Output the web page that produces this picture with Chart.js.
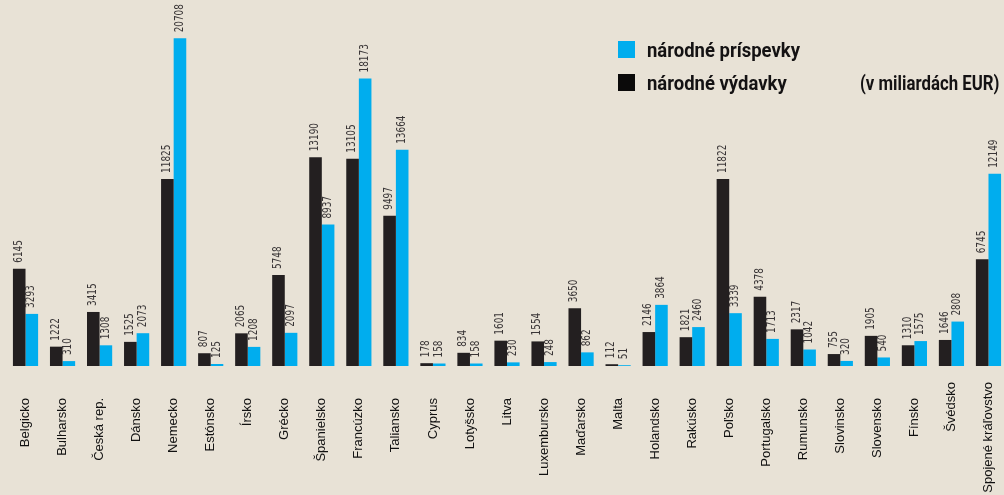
<!DOCTYPE html>
<html>
<head>
<meta charset="utf-8">
<script src="https://cdn.jsdelivr.net/npm/chart.js@4.4.1/dist/chart.umd.min.js"></script>
<style>
  html, body { margin: 0; padding: 0; overflow: hidden; background: #e8e2d6; }
  #wrap { position: relative; width: 1010px; height: 495px; }
  .legend { position: absolute; font-family: Roboto, sans-serif; font-weight: bold; font-size: 21px; color: #141213; white-space: nowrap; transform-origin: left top; transform: scaleX(0.88); line-height: 21px; }
  .box { position: absolute; width: 17px; height: 17px; }
</style>
</head>
<body>
<div id="wrap">
  <canvas id="euChart" width="1010" height="495"></canvas>
  <div class="box" style="left:618px; top:41px; background:#00adee;"></div>
  <div class="legend" style="left:647px; top:40px;">národné príspevky</div>
  <div class="box" style="left:618px; top:74px; background:#0b0a0a;"></div>
  <div class="legend" style="left:647px; top:73px;">národné výdavky</div>
  <div class="legend" style="left:860px; top:73px; transform: scaleX(0.8);">(v miliardách EUR)</div>
</div>
<script>
const countries = ['Belgicko', 'Bulharsko', 'Česká rep.', 'Dánsko', 'Nemecko', 'Estónsko', 'Írsko', 'Grécko',
  'Španielsko', 'Francúzko', 'Taliansko', 'Cyprus', 'Lotyšsko', 'Litva', 'Luxembursko', 'Maďarsko', 'Malta',
  'Holandsko', 'Rakúsko', 'Poľsko', 'Portugalsko', 'Rumunsko', 'Slovinsko', 'Slovensko', 'Fínsko', 'Švédsko',
  'Spojené kráľovstvo'];

// národné výdavky (black)
const vydavky = [6145, 1222, 3415, 1525, 11825, 807, 2065, 5748, 13190, 13105, 9497, 178, 834, 1601, 1554,
  3650, 112, 2146, 1821, 11822, 4378, 2317, 755, 1905, 1310, 1646, 6745];

// národné príspevky (cyan)
const prispevky = [3293, 310, 1308, 2073, 20708, 125, 1208, 2097, 8937, 18173, 13664, 158, 158, 230, 248,
  862, 51, 3864, 2460, 3339, 1713, 1042, 320, 540, 1575, 2808, 12149];

// the last two country names sit a little higher in the original
const raisedLabels = ['Švédsko', 'Spojené kráľovstvo'];

// rotated value labels above each bar
const valueLabels = {
  id: 'valueLabels',
  afterDatasetsDraw(chart) {
    const ctx = chart.ctx;
    ctx.save();
    ctx.fillStyle = '#3a3637';
    ctx.font = '12px "DejaVu Sans"';
    ctx.textAlign = 'left';
    ctx.textBaseline = 'middle';
    chart.data.datasets.forEach((ds, i) => {
      chart.getDatasetMeta(i).data.forEach((bar, j) => {
        ctx.save();
        ctx.translate(bar.x - 0.5, bar.y - 6);
        ctx.rotate(-Math.PI / 2);
        ctx.scale(0.74, 1);
        ctx.fillText(String(ds.data[j]), 0, 0);
        ctx.restore();
      });
    });
    ctx.restore();
  }
};

const raiseLabels = {
  id: 'raiseLabels',
  beforeDraw(chart) {
    const items = chart.scales.x.getLabelItems();
    items.forEach(item => {
      if (raisedLabels.includes(item.label)) item.options.translation[1] -= 16;
    });
  }
};

const chart = new Chart(document.getElementById('euChart').getContext('2d'), {
  type: 'bar',
  data: {
    labels: countries,
    datasets: [
      { label: 'národné výdavky', data: vydavky, backgroundColor: '#231f20' },
      { label: 'národné príspevky', data: prispevky, backgroundColor: '#00adee' }
    ]
  },
  options: {
    responsive: false,
    animation: false,
    events: [],
    categoryPercentage: 0.68,
    barPercentage: 1.0,
    layout: { padding: { left: 7, right: 3, top: 10, bottom: 0 } },
    plugins: {
      legend: { display: false },
      tooltip: { enabled: false }
    },
    scales: {
      y: {
        display: false,
        min: 0,
        max: 22500
      },
      x: {
        grid: { display: false, drawTicks: false },
        border: { display: false },
        ticks: {
          autoSkip: false,
          minRotation: 90,
          maxRotation: 90,
          padding: 32,
          color: '#111',
          font: { family: '"Liberation Sans", Arial, sans-serif', size: 13 }
        },
        afterFit: (scale) => {
          scale.height = 129;
          scale.paddingLeft = 0;
          scale.paddingRight = 0;
        }
      }
    }
  },
  plugins: [valueLabels, raiseLabels]
});
</script>
</body>
</html>
